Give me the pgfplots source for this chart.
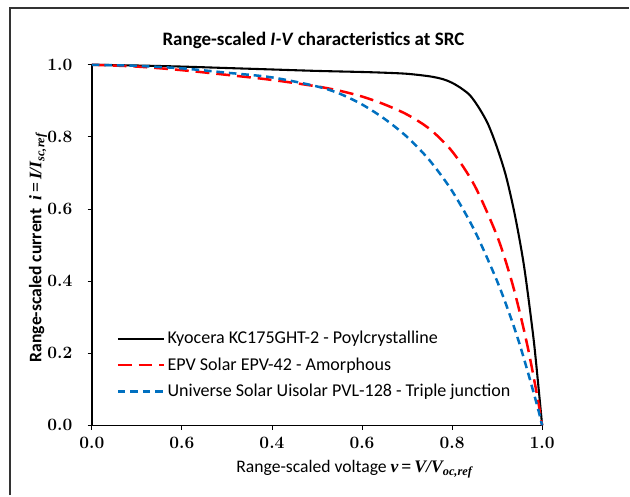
\documentclass[border=0pt]{standalone}
\usepackage{pgfplots}
\pgfplotsset{compat=1.18}
\usepackage{fontspec}
\setmainfont{Carlito}
\newfontfamily\lmr{Latin Modern Roman}
\newfontfamily\tnr{Liberation Serif}
\definecolor{exred}{RGB}{255,0,0}
\definecolor{exblue}{RGB}{0,112,192}
\pgfplotstableread{
v i
0 1.000
0.1 0.998
0.2 0.995
0.3 0.991
0.4 0.987
0.5 0.983
0.6 0.980
0.65 0.978
0.7 0.975
0.75 0.968
0.78 0.960
0.8 0.950
0.82 0.935
0.84 0.915
0.86 0.880
0.88 0.835
0.90 0.770
0.92 0.690
0.94 0.580
0.96 0.440
0.98 0.250
0.99 0.130
1.0 0.0
}\kyocera
\pgfplotstableread{
v i
0 1.0
0.1 0.995
0.2 0.985
0.3 0.972
0.4 0.958
0.5 0.940
0.55 0.928
0.6 0.912
0.65 0.890
0.7 0.862
0.75 0.822
0.8 0.760
0.85 0.665
0.9 0.525
0.93 0.410
0.95 0.315
0.97 0.205
0.99 0.075
1.0 0.0
}\epv
\pgfplotstableread{
v i
0 1.0
0.1 0.997
0.2 0.990
0.3 0.978
0.4 0.965
0.5 0.940
0.55 0.920
0.6 0.890
0.65 0.850
0.7 0.800
0.75 0.735
0.8 0.650
0.85 0.540
0.9 0.400
0.93 0.300
0.95 0.225
0.97 0.140
0.99 0.050
1.0 0.0
}\uni
\begin{document}
\begin{tikzpicture}
\begin{axis}[
  at={(0,0)}, anchor=origin,
  scale only axis,
  width=324.7pt, height=260pt,
  xmin=0, xmax=1, ymin=0, ymax=1,
  axis lines*=left,
  axis line style={line width=1.2pt},
  tick align=outside,
  tick style={black, line width=0.6pt},
  major tick length=3pt,
  xtick={0,0.2,0.4,0.6,0.8,1.0},
  xticklabels={0.0,0.6,0.4,0.6,0.8,1.0},
  ytick={0,0.2,0.4,0.6,0.8,1.0},
  yticklabels={0.0,0.2,0.4,0.6,0.8,1.0},
  ticklabel style={font=\lmr\bfseries\fontsize{12.5}{14}\selectfont},
  xticklabel style={yshift=-2pt},
  yticklabel style={xshift=-7.5pt},
  clip=false,
  legend style={draw=none, fill=none, at={(axis cs:0.045,0.277)}, anchor=north west,
    font=\fontsize{13}{15}\selectfont, row sep=4.6pt,
    legend cell align=left},
  legend image code/.code={\draw[#1] (0pt,0pt) -- (33pt,0pt);},
]
\addplot[black, line width=1.5pt, smooth] table[x=v,y=i]{\kyocera};
\addlegendentry{Kyocera KC175GHT-2 - Poylcrystalline}
\addplot[exred, line width=1.8pt, dash pattern=on 10pt off 5pt, smooth] table[x=v,y=i]{\epv};
\addlegendentry{EPV Solar EPV-42 - Amorphous}
\addplot[exblue, line width=1.8pt, dash pattern=on 5.5pt off 3.5pt, smooth] table[x=v,y=i]{\uni};
\addlegendentry{Universe Solar Uisolar PVL-128 - Triple junction}
\end{axis}
\node[font=\bfseries\fontsize{13.7}{16}\selectfont] at (159.8pt,277.9pt) {Range-scaled \textit{I-V} characteristics at SRC};
\node[font=\fontsize{12.7}{15}\selectfont] at (189.4pt,-31.7pt) {Range-scaled voltage {\tnr\bfseries\itshape v\,\upshape=\,\itshape V/V\textsubscript{oc,ref}}};
\node[font=\bfseries\fontsize{12.7}{15}\selectfont, rotate=90] at (-38.9pt,128.2pt) {Range-scaled current\ \ {\tnr\bfseries\itshape i\,\upshape=\,\itshape I/I\textsubscript{sc,ref}}};
\draw[line width=1.4pt, black!80] (-59.04pt,-50.4pt) -- (-59.04pt,300.96pt) -- (387.36pt,300.96pt);
\useasboundingbox (-66.24pt,-50.4pt) rectangle (387.36pt,306.72pt);
\end{tikzpicture}
\end{document}
